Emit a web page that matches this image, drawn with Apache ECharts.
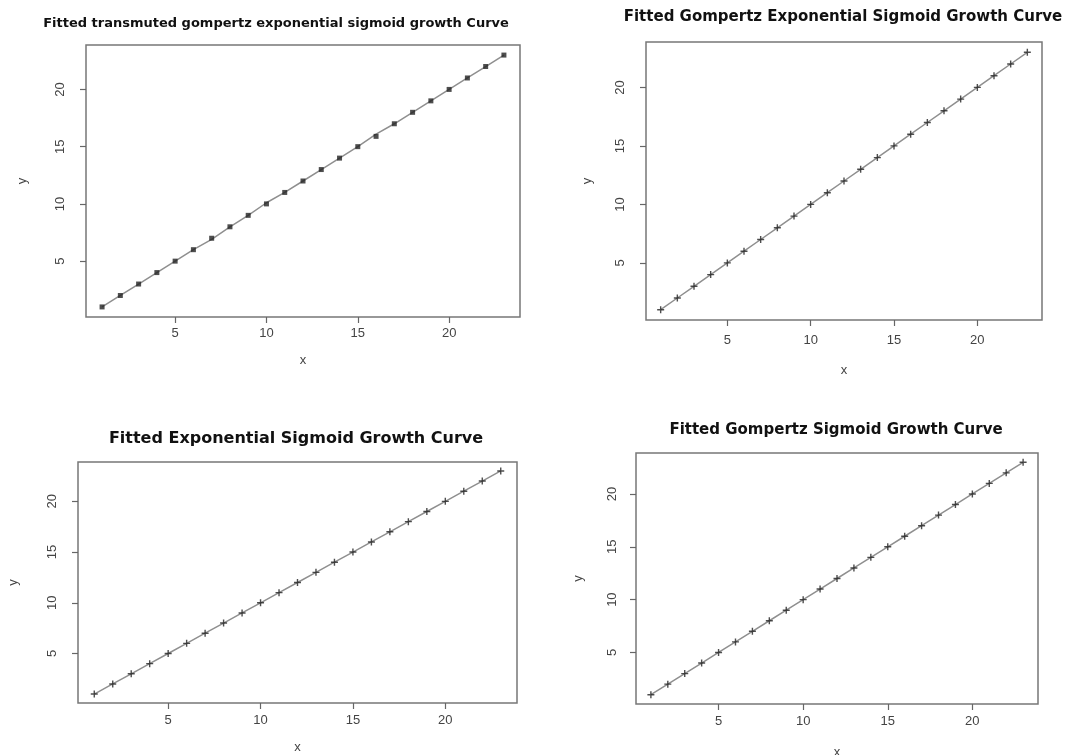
<!DOCTYPE html>
<html>
<head>
<meta charset="utf-8">
<script src="https://cdn.jsdelivr.net/npm/echarts@6/dist/echarts.min.js"></script>
<style>
  html, body { margin: 0; padding: 0; background: #fff; }
  #main { width: 1085px; height: 755px; }
</style>
</head>
<body>
<div id="main"></div>
<script>
// x values shared by all four panels
const xValues = [1, 2, 3, 4, 5, 6, 7, 8, 9, 10, 11, 12, 13, 14, 15, 16, 17, 18, 19, 20, 21, 22, 23];
const tickValues = [5, 10, 15, 20];

const obsTransmuted = [1, 2, 3, 4, 5, 6, 7, 8, 9, 10, 11, 12, 13, 14, 15, 15.9, 17, 18, 19, 20, 21, 22, 23];
const fitTransmuted = [1, 2, 3, 4, 5, 6, 6.9, 8, 9, 10.1, 11, 12, 13, 14, 15, 16.1, 17, 18, 19, 20, 21, 22, 23];
const obsGompExp = [1, 2, 3, 4, 5, 6, 7, 8, 9, 10, 11, 12, 13, 14, 15, 16, 17, 18, 19, 20, 21, 22, 23];
const fitGompExp = [1, 2, 3, 4, 5, 6, 7, 8, 9, 10, 11, 12, 13, 14, 15, 16, 17, 18, 19, 20, 21, 22, 23];
const obsExp = [1, 2, 3, 4, 5, 6, 7, 8, 9, 10, 11, 12, 13, 14, 15, 16, 17, 18, 19, 20, 21, 22, 23];
const fitExp = [1, 2, 3, 4, 5, 6, 7, 8, 9, 10, 11, 12, 13, 14, 15, 16, 17, 18, 19, 20, 21, 22, 23];
const obsGomp = [1, 2, 3, 4, 5, 6, 7, 8, 9, 10, 11, 12, 13, 14, 15, 16, 17, 18, 19, 20, 21, 22, 23];
const fitGomp = [1, 2, 3, 4, 5, 6, 7, 8, 9, 10, 11, 12, 13, 14, 15, 16, 17, 18, 19, 20, 21, 22, 23];

const titles = [
  "Fitted transmuted gompertz exponential sigmoid growth Curve",
  "Fitted Gompertz Exponential Sigmoid Growth Curve",
  "Fitted Exponential Sigmoid Growth Curve",
  "Fitted Gompertz Sigmoid Growth Curve"
];

// panel boxes (px) and title / label spots
const panels = [
  { left: 86, top: 45, width: 434, height: 272, titleX: 271, titleY: 12, titleSize: 13, xGap: 37, yGap: 57, xMargin: 10, yMargin: 19, obs: obsTransmuted, fit: fitTransmuted, marker: "rect", markerSize: 5 },
  { left: 646, top: 42, width: 396, height: 278, titleX: 838, titleY: 5, titleSize: 15, xGap: 44, yGap: 52, xMargin: 14, yMargin: 19, obs: obsGompExp, fit: fitGompExp, marker: "plus", markerSize: 7 },
  { left: 78, top: 462, width: 439, height: 241, titleX: 291, titleY: 426, titleSize: 16, xGap: 38, yGap: 58, xMargin: 11, yMargin: 19, obs: obsExp, fit: fitExp, marker: "plus", markerSize: 7 },
  { left: 636, top: 453, width: 402, height: 251, titleX: 831, titleY: 418, titleSize: 15, xGap: 42, yGap: 51, xMargin: 11, yMargin: 17, obs: obsGomp, fit: fitGomp, marker: "plus", markerSize: 7 }
];

const plusPath = "path://M4,0 L6,0 L6,4 L10,4 L10,6 L6,6 L6,10 L4,10 L4,6 L0,6 L0,4 L4,4 Z";
const font = "Liberation Sans, Arial, sans-serif";
const titleFont = "DejaVu Sans, Verdana, sans-serif";

const axisCommon = (gap, margin, rotate, name) => ({
  type: "value",
  min: 0.12,
  max: 23.88,
  name: name,
  nameLocation: "middle",
  nameGap: gap,
  nameRotate: rotate ? 90 : 0,
  nameTextStyle: { color: "#444", fontSize: 13, fontFamily: font },
  axisLine: { show: false },
  axisTick: { show: true, inside: false, length: 6, customValues: tickValues, lineStyle: { color: "#666", width: 1.2 } },
  axisLabel: { show: true, customValues: tickValues, margin: margin, rotate: rotate ? 90 : 0, color: "#444", fontSize: 13, fontFamily: font },
  splitLine: { show: false }
});

let chart = echarts.init(document.getElementById("main"));

let grid = [], xAxis = [], yAxis = [], series = [], title = [];
panels.forEach((p, i) => {
  grid.push({
    left: p.left, top: p.top, width: p.width, height: p.height,
    outerBoundsMode: "none",
    show: true, borderColor: "#777", borderWidth: 1.5, backgroundColor: "#fff"
  });
  xAxis.push(Object.assign(axisCommon(p.xGap, p.xMargin, false, "x"), { gridIndex: i }));
  yAxis.push(Object.assign(axisCommon(p.yGap, p.yMargin, true, "y"), { gridIndex: i }));
  title.push({
    text: titles[i],
    left: p.titleX,
    top: p.titleY,
    textAlign: "center",
    textStyle: { fontSize: p.titleSize, fontWeight: "bold", color: "#111", fontFamily: titleFont }
  });
  // fitted curve
  series.push({
    type: "line",
    xAxisIndex: i,
    yAxisIndex: i,
    data: xValues.map((x, k) => [x, p.fit[k]]),
    showSymbol: false,
    smooth: false,
    lineStyle: { color: "#8f8f8f", width: 1.5 },
    z: 2
  });
  // observed points
  series.push({
    type: "scatter",
    xAxisIndex: i,
    yAxisIndex: i,
    data: xValues.map((x, k) => [x, p.obs[k]]),
    symbol: p.marker === "plus" ? plusPath : "rect",
    symbolSize: p.markerSize,
    itemStyle: { color: "#222" },
    z: 3
  });
});

chart.setOption({
  animation: false,
  backgroundColor: "#fff",
  title: title,
  grid: grid,
  xAxis: xAxis,
  yAxis: yAxis,
  series: series
});
</script>
</body>
</html>
